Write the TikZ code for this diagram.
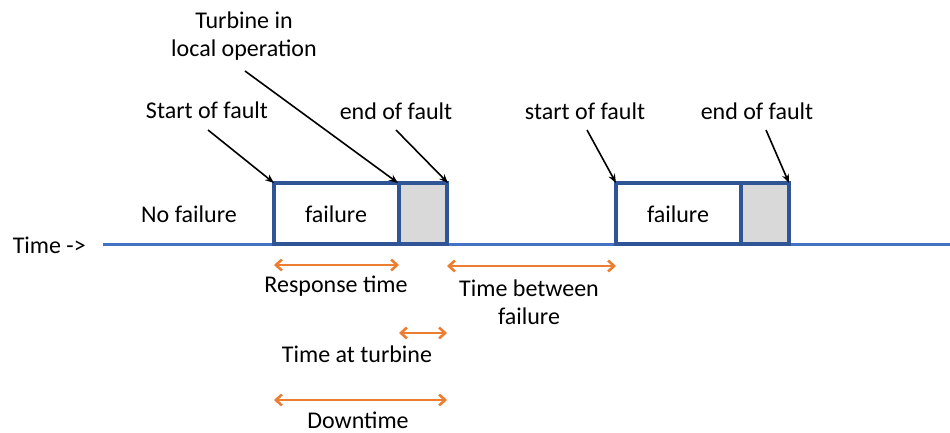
\documentclass[tikz,border=0pt]{standalone}
\usepackage{fontspec}
\setmainfont{Carlito}
\usetikzlibrary{arrows.meta}
\definecolor{tline}{HTML}{4472C4}
\definecolor{boxblue}{HTML}{2F5597}
\definecolor{boxgray}{HTML}{D9D9D9}
\definecolor{orng}{HTML}{ED7D31}
\begin{document}
\begin{tikzpicture}[x=1pt,y=-1pt,
  lbl/.style={font=\fontsize{24}{28}\selectfont, inner sep=0pt, align=center},
  failbox/.style={draw=boxblue, line width=3.2pt},
  pointer/.style={draw=black, line width=1.6pt, -{Stealth[length=9pt,width=7pt]}},
  span/.style={draw=orng, line width=2.6pt, {Straight Barb[length=6pt,width=11pt]}-{Straight Barb[length=6pt,width=11pt]}}]
\useasboundingbox (0,0) rectangle (950,433);
% timeline
\coordinate (t0) at (103,244);
\coordinate (t1) at (950,244);
\draw[tline, line width=3pt] (t0) -- (t1);
\node[lbl, anchor=east] (timelbl) at (86,245) {Time ->};
% boxes
\draw[failbox] (274,183) rectangle (399,244);
\draw[failbox, fill=boxgray] (399,183) rectangle (447,244);
\draw[failbox] (616,183) rectangle (741,244);
\draw[failbox, fill=boxgray] (741,183) rectangle (789,244);
\coordinate (s1) at (274,183);
\coordinate (m1) at (398,183);
\coordinate (e1) at (448,183);
\coordinate (s2) at (616,183);
\coordinate (e2) at (789,183);
\node[lbl] (fail1) at (336,214) {failure};
\node[lbl] (fail2) at (678,214) {failure};
\node[lbl] (nofail) at (189,214) {No failure};
% labels
\node[lbl] (turb) at (244,36) {Turbine in\\local operation};
\node[lbl] (sf1) at (207,110) {Start of fault};
\node[lbl] (ef1) at (396,111) {end of fault};
\node[lbl] (sf2) at (585,111) {start of fault};
\node[lbl] (ef2) at (757,111) {end of fault};
% pointers
\coordinate (p0) at (208,130);
\coordinate (p1) at (245,71);
\coordinate (p2) at (396,130);
\coordinate (p3) at (587,130);
\coordinate (p4) at (766,130);
\draw[pointer] (p0) -- (s1);
\draw[pointer] (p1) -- (m1);
\draw[pointer] (p2) -- (e1);
\draw[pointer] (p3) -- (s2);
\draw[pointer] (p4) -- (e2);
% spans
\coordinate (r0) at (274,265); \coordinate (r1) at (399,265);
\coordinate (b0) at (447,266); \coordinate (b1) at (616,266);
\coordinate (a0) at (399,333); \coordinate (a1) at (447,333);
\coordinate (d0) at (274,400); \coordinate (d1) at (447,400);
\draw[span] (r0) -- (r1);
\draw[span] (b0) -- (b1);
\draw[span] (a0) -- (a1);
\draw[span] (d0) -- (d1);
\node[lbl] (resp) at (336,286) {Response time};
\node[lbl] (tbf) at (529,302) {Time between\\failure};
\node[lbl] (tat) at (357,354) {Time at turbine};
\node[lbl] (down) at (358,420) {Downtime};
\end{tikzpicture}
\end{document}
